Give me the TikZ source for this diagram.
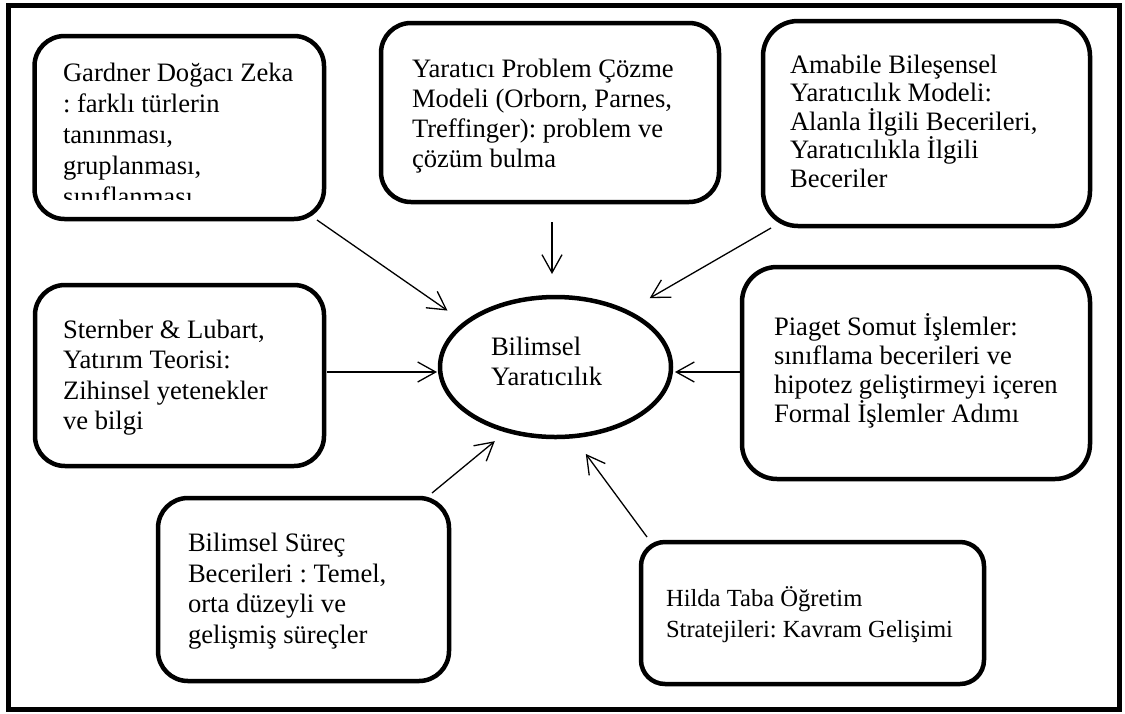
\documentclass[tikz,border=0pt]{standalone}
\usepackage{fontspec}
\setmainfont{Liberation Serif}
\usetikzlibrary{arrows.meta,shapes.geometric}
% multi-line, left-aligned label; [#1] = font size, #2 = line spacing (pt)
\newcommand\boxtext[3][26.6]{\parbox[t]{420pt}{\fontsize{#1pt}{#2pt}\selectfont\frenchspacing\raggedright #3\par}}
\begin{document}
\begin{tikzpicture}[x=1pt,y=-1pt,
  card/.style={draw, line width=4.5pt, rounded corners=#1, inner sep=0pt, outer sep=0pt},
  hub/.style={draw, ellipse, line width=4.5pt, inner sep=0pt, outer sep=0pt,
              minimum width=231pt, minimum height=140pt},
  txt/.style={anchor=base west, inner sep=0pt, outer sep=0pt},
  link/.style={line width=1.3pt, -{Straight Barb[length=18pt,width=20pt]}}]
\useasboundingbox (0,0) rectangle (1125,713);
% outer frame
\draw[line width=5pt] (8,5.5) rectangle (1119.5,709.5);

% central concept
\node[hub] (ell) at (555.5,367) {};
\node[txt] (ellt) at ([shift={(-64.5,-12)}]ell.center) {\boxtext{30}{Bilimsel\\Yaratıcılık}};

% surrounding boxes
\node[card=30pt, minimum width=289.5pt, minimum height=183pt] (g) at (179.25,127.5) {};
\node[card=30pt, minimum width=338pt,   minimum height=179pt] (y) at (550,112.5) {};
\node[card=35pt, minimum width=327pt,   minimum height=205pt] (a) at (926.5,123.5) {};
\node[card=30pt, minimum width=289pt,   minimum height=181pt] (s) at (179.5,375.5) {};
\node[card=35pt, minimum width=348pt,   minimum height=212pt] (p) at (916,373) {};
\node[card=30pt, minimum width=291pt,   minimum height=183pt] (b) at (303.5,589.5) {};
\node[card=24pt, minimum width=343pt,   minimum height=142pt] (h) at (812.5,613) {};

% box texts
\begin{scope}
  \clip (30,30) rectangle (330,199.5);
  \node[txt] (gt) at ([shift={(28.5,45)}]g.north west)
    {\boxtext{31}{Gardner Doğacı Zeka\\: farklı türlerin\\tanınması,\\gruplanması,\\sınıflanması}};
\end{scope}
\node[txt] (yt) at ([shift={(31,54.5)}]y.north west)
  {\boxtext{30}{Yaratıcı Problem Çözme\\Modeli (Orborn, Parnes,\\Treffinger): problem ve\\çözüm bulma}};
\node[txt] (at) at ([shift={(27,52)}]a.north west)
  {\boxtext{28.6}{Amabile Bileşensel\\Yaratıcılık Modeli:\\Alanla İlgili Becerileri,\\Yaratıcılıkla İlgili\\Beceriler}};
\node[txt] (st) at ([shift={(28,53.5)}]s.north west)
  {\boxtext{30.3}{Sternber \& Lubart,\\Yatırım Teorisi:\\Zihinsel yetenekler\\ve bilgi}};
\node[txt] (pt) at ([shift={(32,68)}]p.north west)
  {\boxtext{29}{Piaget Somut İşlemler:\\sınıflama becerileri ve\\hipotez geliştirmeyi içeren\\Formal İşlemler Adımı}};
\node[txt] (bt) at ([shift={(30,53.5)}]b.north west)
  {\boxtext{30.7}{Bilimsel Süreç\\Becerileri : Temel,\\orta düzeyli ve\\gelişmiş süreçler}};
\node[txt] (ht) at ([shift={(25,64)}]h.north west)
  {\boxtext[24.6]{31}{Hilda Taba Öğretim\\Stratejileri: Kavram Gelişimi}};

% connectors toward the centre
\draw[link, shorten >=22pt] ([xshift=-7pt,yshift=-1pt]g.south east) -- (ell.154);
\draw[link, shorten <=20pt, shorten >=23pt] ([xshift=2pt]y.south) -- ([xshift=2pt]y.south |- ell.north);
\draw[link, shorten >=27pt] ([xshift=8pt,yshift=-2pt]a.south west) -- (ell.38);
\draw[link, shorten <=3pt, shorten >=3pt] ([yshift=3.5pt]s.east) -- ([yshift=3.5pt]s.east -| ell.west);
\draw[link, shorten <=2pt, shorten >=4pt] ([yshift=1pt]p.west) -- ([yshift=1pt]p.west -| ell.east);
\draw[link, shorten >=16.5pt] ([xshift=-17pt,yshift=5pt]b.north east) -- (ell.233);
\draw[link, shorten >=22pt] ([xshift=6pt,yshift=5pt]h.north west) -- (ell.284);
\end{tikzpicture}
\end{document}
